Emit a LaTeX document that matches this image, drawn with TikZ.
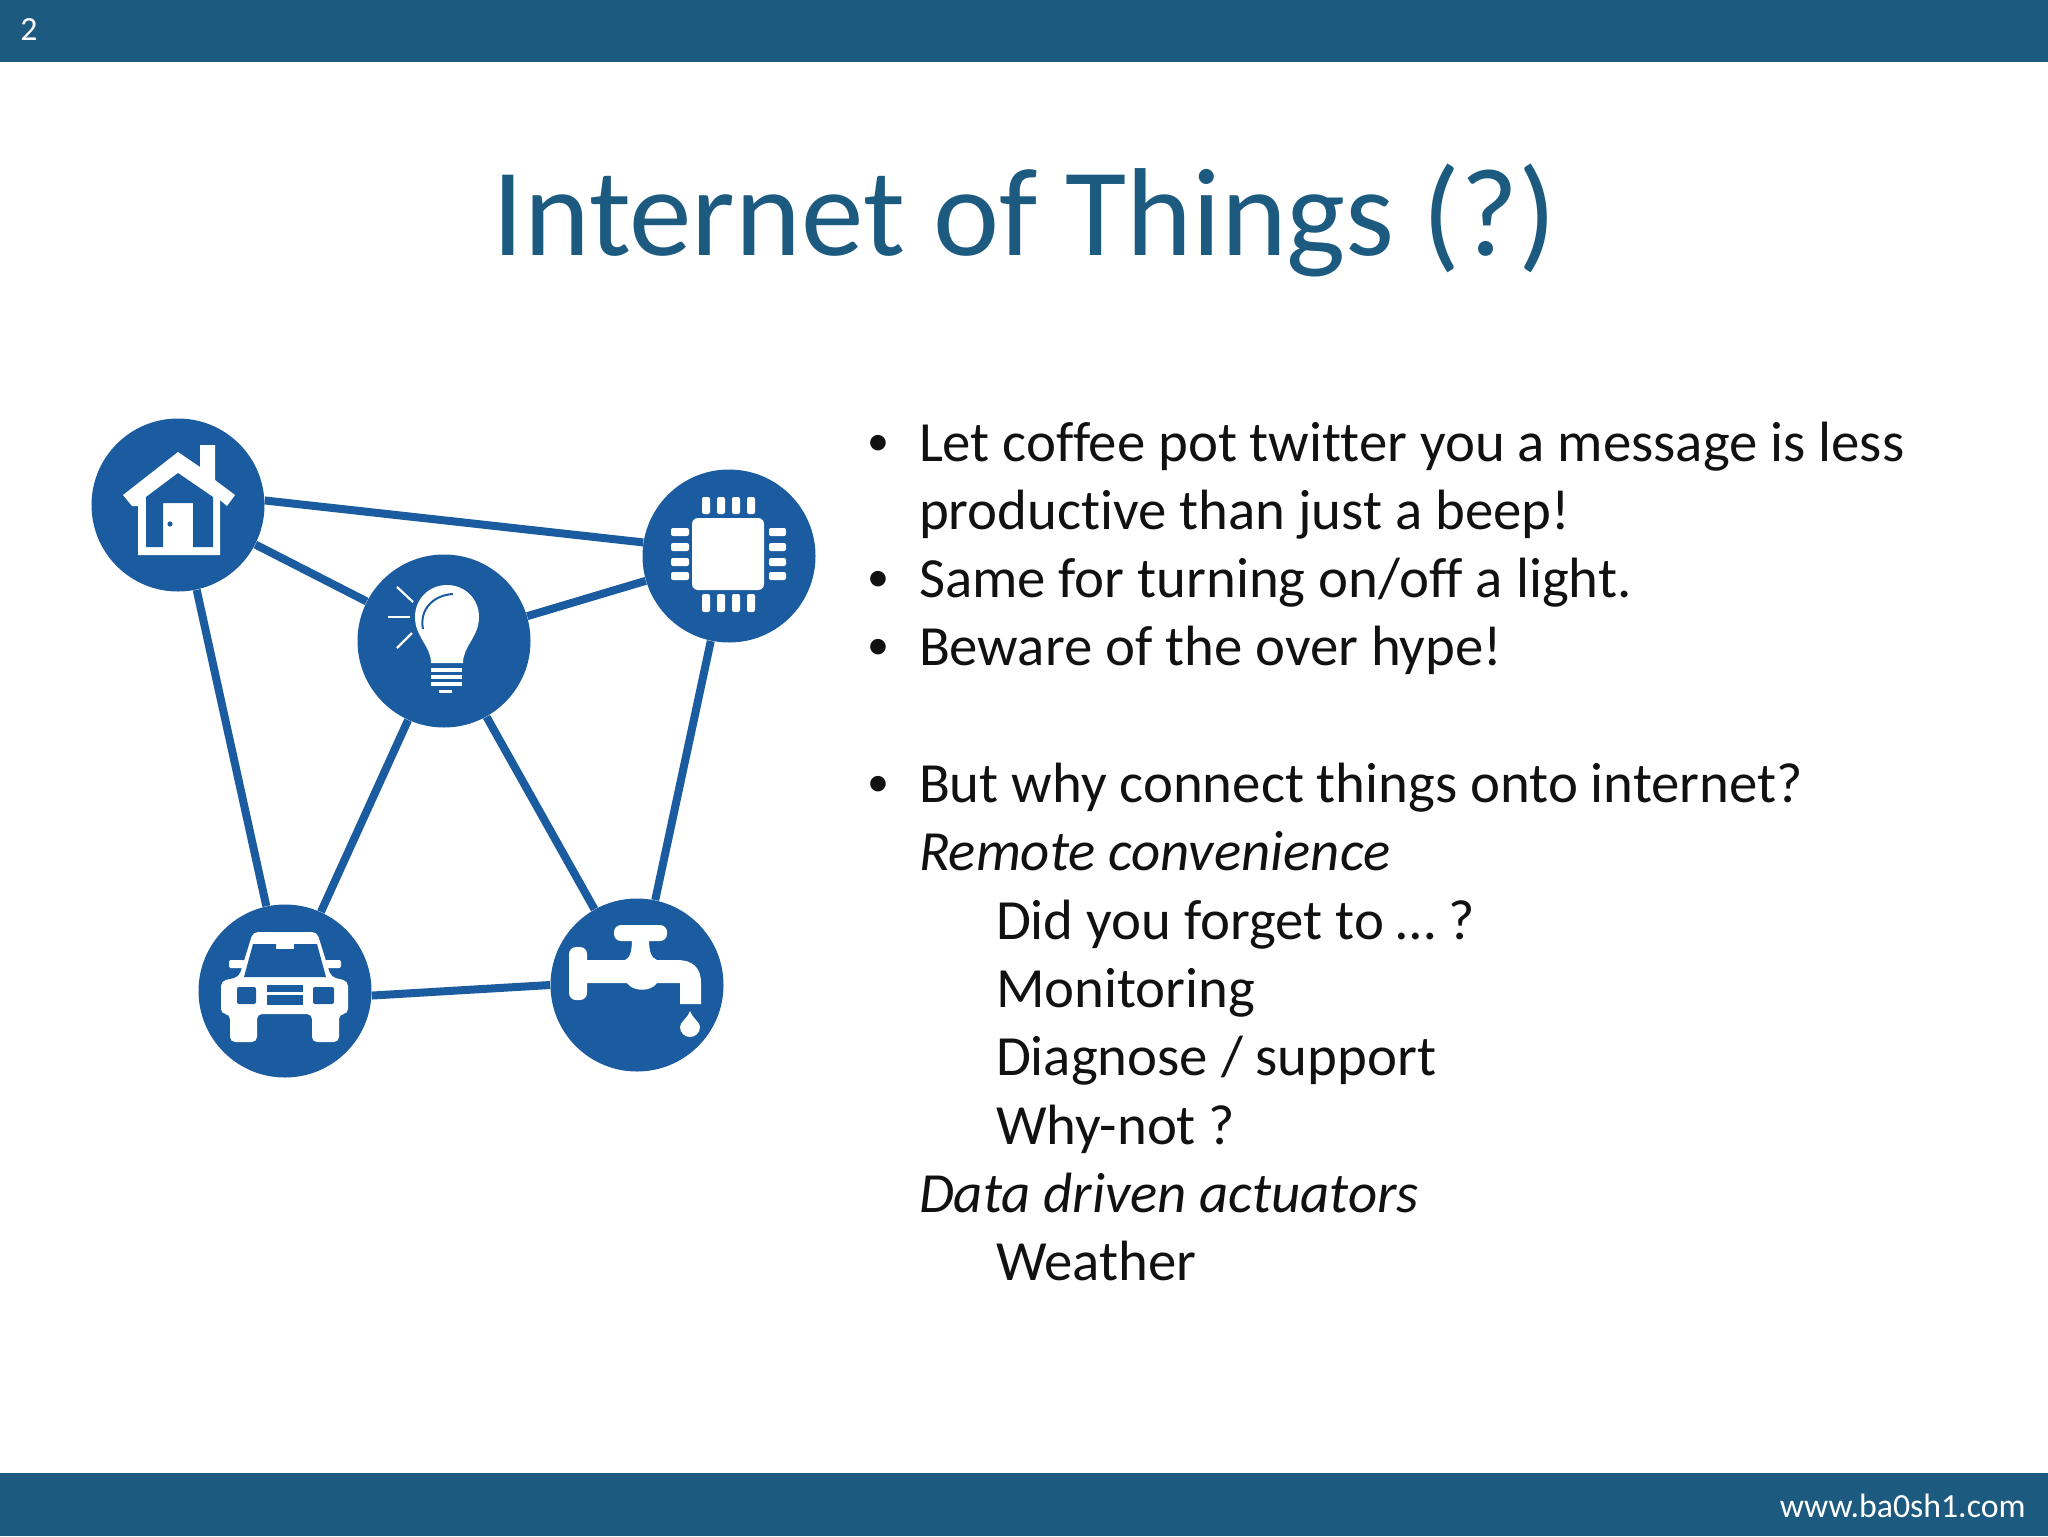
\documentclass[tikz,border=0pt]{standalone}
\usepackage{fontspec}
\setmainfont[Ligatures=CommonOff]{Carlito}
\definecolor{slateblue}{HTML}{1D5A80}
\definecolor{thingblue}{HTML}{1A5C9F}
\definecolor{bodyblack}{HTML}{111111}
\usetikzlibrary{positioning}

\begin{document}
\begin{tikzpicture}[x=.5pt, y=-.5pt]
  \tikzset{node distance = 0pt}
  \tikzset{
    bar/.style={fill=slateblue, draw=none},
    thing/.style={circle, fill=thingblue, minimum size=86.5pt, inner sep=0pt},
    link/.style={draw=thingblue, line width=4pt},
    icon/.style={fill=white, draw=none},
    iconcut/.style={fill=thingblue, draw=none},
    bodyline/.style={text=bodyblack, inner sep=0pt, outer sep=0pt, text height=26pt, text depth=8.15pt, font=\fontsize{28.4}{34}\selectfont},
    bulletmark/.style={text=bodyblack, inner sep=0pt, outer sep=0pt, anchor=base west, xshift=-26pt, yshift=3pt, font=\fontsize{22}{26}\selectfont},
    barlabel/.style={text=white, inner sep=0pt, font=\fontsize{16.9}{20}\selectfont}
  }
  \useasboundingbox (0,0) rectangle (2048,1536);

  \fill[bar] (0,0) rectangle (2048,62);
  \fill[bar] (0,1473) rectangle (2048,1536);
  \node[barlabel, anchor=base west] (pagenum) at (20,41) {2};
  \node[barlabel, anchor=base east] (site) at (2026,1517) {www.ba0sh1.com};

  \node[text=slateblue, inner sep=0pt, anchor=base, font=\fontsize{62.6}{75}\selectfont] (title) at (1025,255) {Internet of Things (?)};

  \node[thing] (house) at (178,505) {};
  \node[thing] (chip) at (729,556) {};
  \node[thing] (bulb) at (444,641) {};
  \node[thing] (car) at (285,991) {};
  \node[thing] (tap) at (637,985) {};

  \draw[link] (house.3) -- (chip.171);
  \draw[link] (house) -- (bulb);
  \draw[link] (bulb) -- (chip);
  \draw[link] (house) -- (car);
  \draw[link] (bulb) -- (car);
  \draw[link] (bulb) -- (tap);
  \draw[link] (chip) -- (tap);
  \draw[link] (car.-3) -- (tap.180);

  % house
  \begin{scope}[shift={(house.center)}]
    \fill[icon] (-55,-10) -- (0,-53) -- (22,-38) -- (22,-60) -- (37,-60) -- (37,-25) -- (57,-10) -- (49,1) -- (42,-5) -- (42,50) -- (-40,50) -- (-40,1) -- (-46,1) -- cycle;
    \fill[iconcut] (-32,42) -- (-32,-8) -- (0,-32) -- (35,-8) -- (35,42) -- (15,42) -- (15,-2) -- (-15,-2) -- (-15,42) -- cycle;
    \fill[iconcut] (-8,19) circle (1.3pt);
  \end{scope}

  % bulb
  \begin{scope}[shift={(bulb.center)}]
    \fill[icon] (-13,22) .. controls (-13,5) and (-29,-4) .. (-29,-24) .. controls (-29,-42) and (-15,-56) .. (3,-56) .. controls (21,-56) and (35,-42) .. (35,-24) .. controls (35,-4) and (19,5) .. (19,22) -- cycle;
    \draw[thingblue, line width=1pt] (-21,-12) .. controls (-25,-32) and (-10,-46) .. (9,-47);
    \fill[icon] (-13,27) rectangle (18,31);
    \fill[icon] (-13,34) rectangle (18,38);
    \fill[icon] (-13,41) rectangle (18,45);
    \fill[icon] (-5,49) rectangle (8,52);
    \draw[white, line width=1.1pt] (-47,-54) -- (-31,-39);
    \draw[white, line width=1.1pt] (-56,-24) -- (-34,-24);
    \draw[white, line width=1.1pt] (-47,7) -- (-32,-8);
  \end{scope}

  % chip
  \begin{scope}[shift={(chip.center)}]
    \fill[icon, rounded corners=3pt] (-37,-38) rectangle (35,34);
    \fill[icon, rounded corners=1pt] (-27,-59) rectangle (-19,-42) (-12,-59) rectangle (-4,-42) (3,-59) rectangle (11,-42) (18,-59) rectangle (26,-42);
    \fill[icon, rounded corners=1pt] (-27,38) rectangle (-19,56) (-12,38) rectangle (-4,56) (3,38) rectangle (11,56) (18,38) rectangle (26,56);
    \fill[icon, rounded corners=1pt] (-58,-28) rectangle (-40,-20) (-58,-13) rectangle (-40,-5) (-58,2) rectangle (-40,10) (-58,16) rectangle (-40,24);
    \fill[icon, rounded corners=1pt] (40,-28) rectangle (57,-20) (40,-13) rectangle (57,-5) (40,2) rectangle (57,10) (40,16) rectangle (57,24);
  \end{scope}

  % car
  \begin{scope}[shift={(car.center)}]
    \fill[icon, rounded corners=2.5pt] (-32,-59) -- (32,-59) -- (46,-14) -- (63,-10) -- (63,23) -- (54,23) -- (54,51) -- (27,51) -- (27,23) -- (-28,23) -- (-28,51) -- (-55,51) -- (-55,23) -- (-64,23) -- (-64,-10) -- (-46,-14) -- cycle;
    \fill[icon, rounded corners=1pt] (-56,-31) rectangle (-40,-23);
    \fill[icon, rounded corners=1pt] (40,-31) rectangle (56,-23);
    \fill[iconcut] (-32,-47) -- (-9,-47) -- (-9,-42) -- (9,-42) -- (9,-47) -- (32,-47) -- (41,-14) -- (-41,-14) -- cycle;
    \fill[iconcut, rounded corners=1pt] (-48,-4) rectangle (-29,13);
    \fill[iconcut, rounded corners=1pt] (28,-4) rectangle (49,13);
    \fill[iconcut] (-18,-6) rectangle (18,1);
    \fill[iconcut] (-18,4) rectangle (18,14);
  \end{scope}

  % tap
  \begin{scope}[shift={(tap.center)}]
    \fill[icon, rounded corners=3.5pt] (-23,-60) rectangle (30,-44);
    \fill[icon, rounded corners=3.5pt] (-68,-38) rectangle (-50,15);
    \fill[icon] (-50,-25) -- (-12,-25) .. controls (-7,-27) and (-5,-34) .. (-5,-46) -- (12,-46) .. controls (12,-34) and (14,-27) .. (20,-25) -- (40,-25) .. controls (55,-25) and (64,-18) .. (64,-2) -- (64,19) -- (43,19) -- (43,-2) -- (20,-2) .. controls (14,7) and (-4,7) .. (-10,-2) -- (-50,-2) -- cycle;
    \fill[icon] (53,26) .. controls (56,34) and (63,37) .. (63,42) .. controls (63,48) and (58,52) .. (53,52) .. controls (48,52) and (43,48) .. (43,42) .. controls (43,37) and (50,34) .. (53,26) -- cycle;
  \end{scope}

  \node[bodyline, anchor=base west] (l1) at (919,461) {Let coffee pot twitter you a message is less};
  \node[bodyline, below=of l1.south west, anchor=north west] (l2) {productive than just a beep!};
  \node[bodyline, below=of l2.south west, anchor=north west] (l3) {Same for turning on/off a light.};
  \node[bodyline, below=of l3.south west, anchor=north west] (l4) {Beware of the over hype!};
  \node[bodyline, below=34.15pt of l4.south west, anchor=north west] (l5) {But why connect things onto internet?};
  \node[bodyline, below=of l5.south west, anchor=north west] (l6) {\itshape Remote convenience};
  \node[bodyline, below=of l6.south west, anchor=north west, xshift=38.5pt] (l7) {Did you forget to … ?};
  \node[bodyline, below=of l7.south west, anchor=north west] (l8) {Monitoring};
  \node[bodyline, below=of l8.south west, anchor=north west] (l9) {Diagnose / support};
  \node[bodyline, below=of l9.south west, anchor=north west] (l10) {Why-not ?};
  \node[bodyline, below=of l10.south west, anchor=north west, xshift=-38.5pt] (l11) {\itshape Data driven actuators};
  \node[bodyline, below=of l11.south west, anchor=north west, xshift=38.5pt] (l12) {Weather};

  \node[bulletmark] (b1) at (l1.base west) {•};
  \node[bulletmark] (b3) at (l3.base west) {•};
  \node[bulletmark] (b4) at (l4.base west) {•};
  \node[bulletmark] (b5) at (l5.base west) {•};
\end{tikzpicture}
\end{document}
